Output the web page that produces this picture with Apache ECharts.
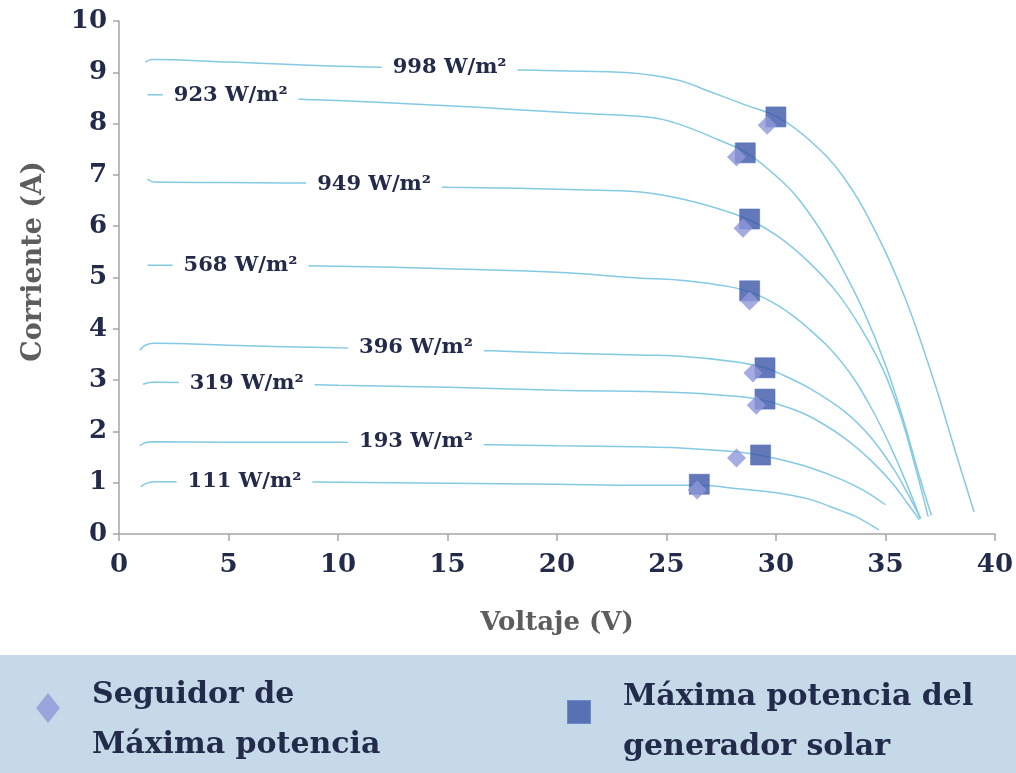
<!DOCTYPE html>
<html>
<head>
<meta charset="utf-8">
<script src="https://cdn.jsdelivr.net/npm/echarts@6/dist/echarts.min.js"></script>
<style>
  html, body { margin: 0; padding: 0; background: #ffffff; }
  #chart { width: 1016px; height: 773px; }
</style>
</head>
<body>
<div id="chart"></div>
<script>
// I-V curves of the solar generator, [voltage V, current A]
const irradianceLabels = ['998 W/m²', '923 W/m²', '949 W/m²', '568 W/m²', '396 W/m²', '319 W/m²', '193 W/m²', '111 W/m²'];

const curve998 = [[1.2, 9.2], [1.5, 9.25], [5, 9.2], [10, 9.12], [15, 9.08], [20, 9.03], [23.3, 8.99], [25.5, 8.85], [27.0, 8.62], [28.5, 8.38], [30.1, 8.12], [31.6, 7.65], [33.1, 6.95], [34.6, 5.85], [35.9, 4.6], [37.2, 3.0], [38.2, 1.6], [39.05, 0.43]];
const curve923 = [[1.3, 8.56], [5, 8.54], [8.5, 8.47], [10, 8.45], [15, 8.35], [18.2, 8.27], [21, 8.2], [24.3, 8.12], [25.5, 8.0], [27.4, 7.68], [28.7, 7.42], [30.0, 6.98], [30.9, 6.6], [32.0, 5.95], [33.0, 5.2], [34.0, 4.35], [35.0, 3.3], [35.8, 2.25], [36.5, 1.2], [37.1, 0.36]];
const curve949 = [[1.3, 6.92], [1.6, 6.86], [5, 6.85], [8.4, 6.84], [11.9, 6.8], [15, 6.76], [18.2, 6.74], [21, 6.71], [23.7, 6.67], [25.5, 6.55], [27.3, 6.35], [28.8, 6.12], [30.1, 5.8], [31.5, 5.3], [32.8, 4.7], [33.9, 4.0], [34.9, 3.2], [35.7, 2.3], [36.4, 1.25], [36.95, 0.34]];
const curve568 = [[1.3, 5.24], [5.5, 5.24], [10, 5.22], [15, 5.17], [20, 5.1], [23.7, 4.99], [25.5, 4.95], [27.3, 4.86], [28.8, 4.72], [30.1, 4.45], [31.5, 4.0], [33.0, 3.35], [34.3, 2.5], [35.5, 1.45], [36.6, 0.3]];
const curve396 = [[0.95, 3.58], [1.2, 3.68], [1.6, 3.72], [5, 3.68], [10, 3.63], [13.6, 3.62], [17, 3.57], [20, 3.53], [23.7, 3.49], [25.5, 3.47], [28.3, 3.35], [29.5, 3.24], [30.1, 3.14], [31.5, 2.85], [33.1, 2.4], [34.3, 1.9], [35.4, 1.25], [36.0, 0.8], [36.6, 0.3]];
const curve319 = [[1.1, 2.92], [1.5, 2.96], [5.8, 2.94], [10, 2.9], [15, 2.86], [20, 2.8], [25.5, 2.76], [28.3, 2.68], [29.5, 2.6], [30.1, 2.53], [31.5, 2.3], [33.1, 1.88], [34.3, 1.45], [35.3, 1.0], [36.0, 0.6], [36.55, 0.28]];
const curve193 = [[0.95, 1.72], [1.2, 1.78], [1.6, 1.8], [5, 1.79], [10, 1.79], [13.6, 1.77], [17, 1.74], [20, 1.72], [23.7, 1.7], [25.5, 1.68], [28.3, 1.6], [29.3, 1.53], [30.1, 1.46], [31.5, 1.3], [33.0, 1.06], [34.0, 0.85], [35.0, 0.57]];
const curve111 = [[1.0, 0.92], [1.2, 0.98], [1.6, 1.02], [5.7, 1.02], [10, 1.01], [15, 0.99], [20, 0.97], [23.7, 0.95], [25.5, 0.95], [26.5, 0.95], [28.3, 0.88], [30.1, 0.8], [31.5, 0.68], [33.0, 0.45], [33.7, 0.33], [34.7, 0.08]];

// where each irradiance tag sits on its curve
const labelAnchors = [[15.1, 9.1], [5.1, 8.54], [11.65, 6.82], [5.55, 5.24], [13.56, 3.63], [5.83, 2.94], [13.56, 1.8], [5.73, 1.02]];

// operating points
const trackerPoints = [[29.6, 7.97], [28.2, 7.35], [28.5, 5.96], [28.8, 4.54], [28.95, 3.14], [29.1, 2.51], [28.2, 1.48], [26.4, 0.86]];
const maxPowerPoints = [[30.0, 8.13], [28.6, 7.43], [28.8, 6.14], [28.8, 4.74], [29.5, 3.24], [29.5, 2.63], [29.3, 1.54], [26.5, 0.97]];

const trackerName = 'Seguidor de\nMáxima potencia';
const maxPowerName = 'Máxima potencia del\ngenerador solar';

const curves = [curve998, curve923, curve949, curve568, curve396, curve319, curve193, curve111];

const serif = 'DejaVu Serif';
const navy = '#232b4a';
const curveColor = '#84cae2';

// legend glyphs sit a little above the middle of their two-line captions,
// so the trailing move-to stretches the glyph box downwards
const diamondIcon = 'path://M12,0L24,15L12,30L0,15Z M24,54';
const squareIcon = 'path://M0,0L22,0L22,22L0,22Z M22,42';

const chart = echarts.init(document.getElementById('chart'), null, { renderer: 'canvas' });

const curveSeries = curves.map((c, i) => ({
  type: 'line',
  name: irradianceLabels[i],
  data: c,
  showSymbol: false,
  smooth: 0.4,
  lineStyle: { color: curveColor, width: 1.5 },
  z: 2,
  silent: true
}));

const legendText = {
  fontFamily: serif, fontWeight: 'bold', fontSize: 30, lineHeight: 50, color: navy
};

const option = {
  backgroundColor: '#ffffff',
  animation: false,
  graphic: [{
    type: 'rect',
    left: 0,
    top: 655,
    shape: { width: 1016, height: 118 },
    style: { fill: '#c6d9e8' },
    z: -10
  }],
  grid: { left: 119, right: 18, top: 21, bottom: 239, containLabel: false },
  legend: [{
    data: [{ name: trackerName, icon: diamondIcon }],
    left: 36,
    top: 670,
    padding: 0,
    itemWidth: 24,
    itemHeight: 54,
    textStyle: Object.assign({ padding: [0, 0, 0, 27] }, legendText)
  }, {
    data: [{ name: maxPowerName, icon: squareIcon }],
    left: 567,
    top: 672,
    padding: 0,
    itemWidth: 22,
    itemHeight: 42,
    textStyle: Object.assign({ padding: [0, 0, 0, 28] }, legendText)
  }],
  xAxis: {
    type: 'value',
    min: 0, max: 40, interval: 5,
    name: 'Voltaje (V)',
    nameLocation: 'middle',
    nameGap: 76,
    nameTextStyle: { fontFamily: serif, fontWeight: 'bold', fontSize: 26, color: '#5d5d5d' },
    axisLine: { show: true, onZero: false, lineStyle: { color: '#a5a5a5', width: 1.5 } },
    axisTick: { show: true, length: 7, lineStyle: { color: '#a5a5a5', width: 1.5 } },
    axisLabel: { fontFamily: serif, fontWeight: 'bold', fontSize: 26, color: navy, margin: 18 },
    splitLine: { show: false }
  },
  yAxis: {
    type: 'value',
    min: 0, max: 10, interval: 1,
    name: 'Corriente (A)',
    nameLocation: 'middle',
    nameGap: 72,
    nameTextStyle: { fontFamily: serif, fontWeight: 'bold', fontSize: 27, color: '#5d5d5d', padding: [0, 0, 0, 32] },
    axisLine: { show: true, lineStyle: { color: '#a5a5a5', width: 1.5 } },
    axisTick: { show: true, length: 6, lineStyle: { color: '#a5a5a5', width: 1.5 } },
    axisLabel: { fontFamily: serif, fontWeight: 'bold', fontSize: 26, color: navy, margin: 12 },
    splitLine: { show: false }
  },
  series: [
    ...curveSeries,
    {
      type: 'scatter',
      name: 'irradiance',
      data: labelAnchors.map((p, i) => ({ value: p, name: irradianceLabels[i] })),
      symbolSize: 0.01,
      itemStyle: { color: navy, opacity: 1 },
      label: {
        show: true,
        position: 'inside',
        formatter: (p) => p.name,
        fontFamily: serif, fontWeight: 'bold', fontSize: 21, color: navy,
        opacity: 1,
        textBorderWidth: 0,
        backgroundColor: '#ffffff',
        padding: [2, 11]
      },
      z: 3,
      silent: true
    },
    {
      type: 'scatter',
      name: maxPowerName,
      data: maxPowerPoints,
      symbol: 'rect',
      symbolSize: 20,
      itemStyle: { color: '#3b56a8', borderColor: '#5a73bd', borderWidth: 0.8 },
      z: 4
    },
    {
      type: 'scatter',
      name: trackerName,
      data: trackerPoints,
      symbol: 'diamond',
      symbolSize: [19, 19],
      itemStyle: { color: '#8f97d9' },
      z: 5
    }
  ]
};

chart.setOption(option);
</script>
</body>
</html>
